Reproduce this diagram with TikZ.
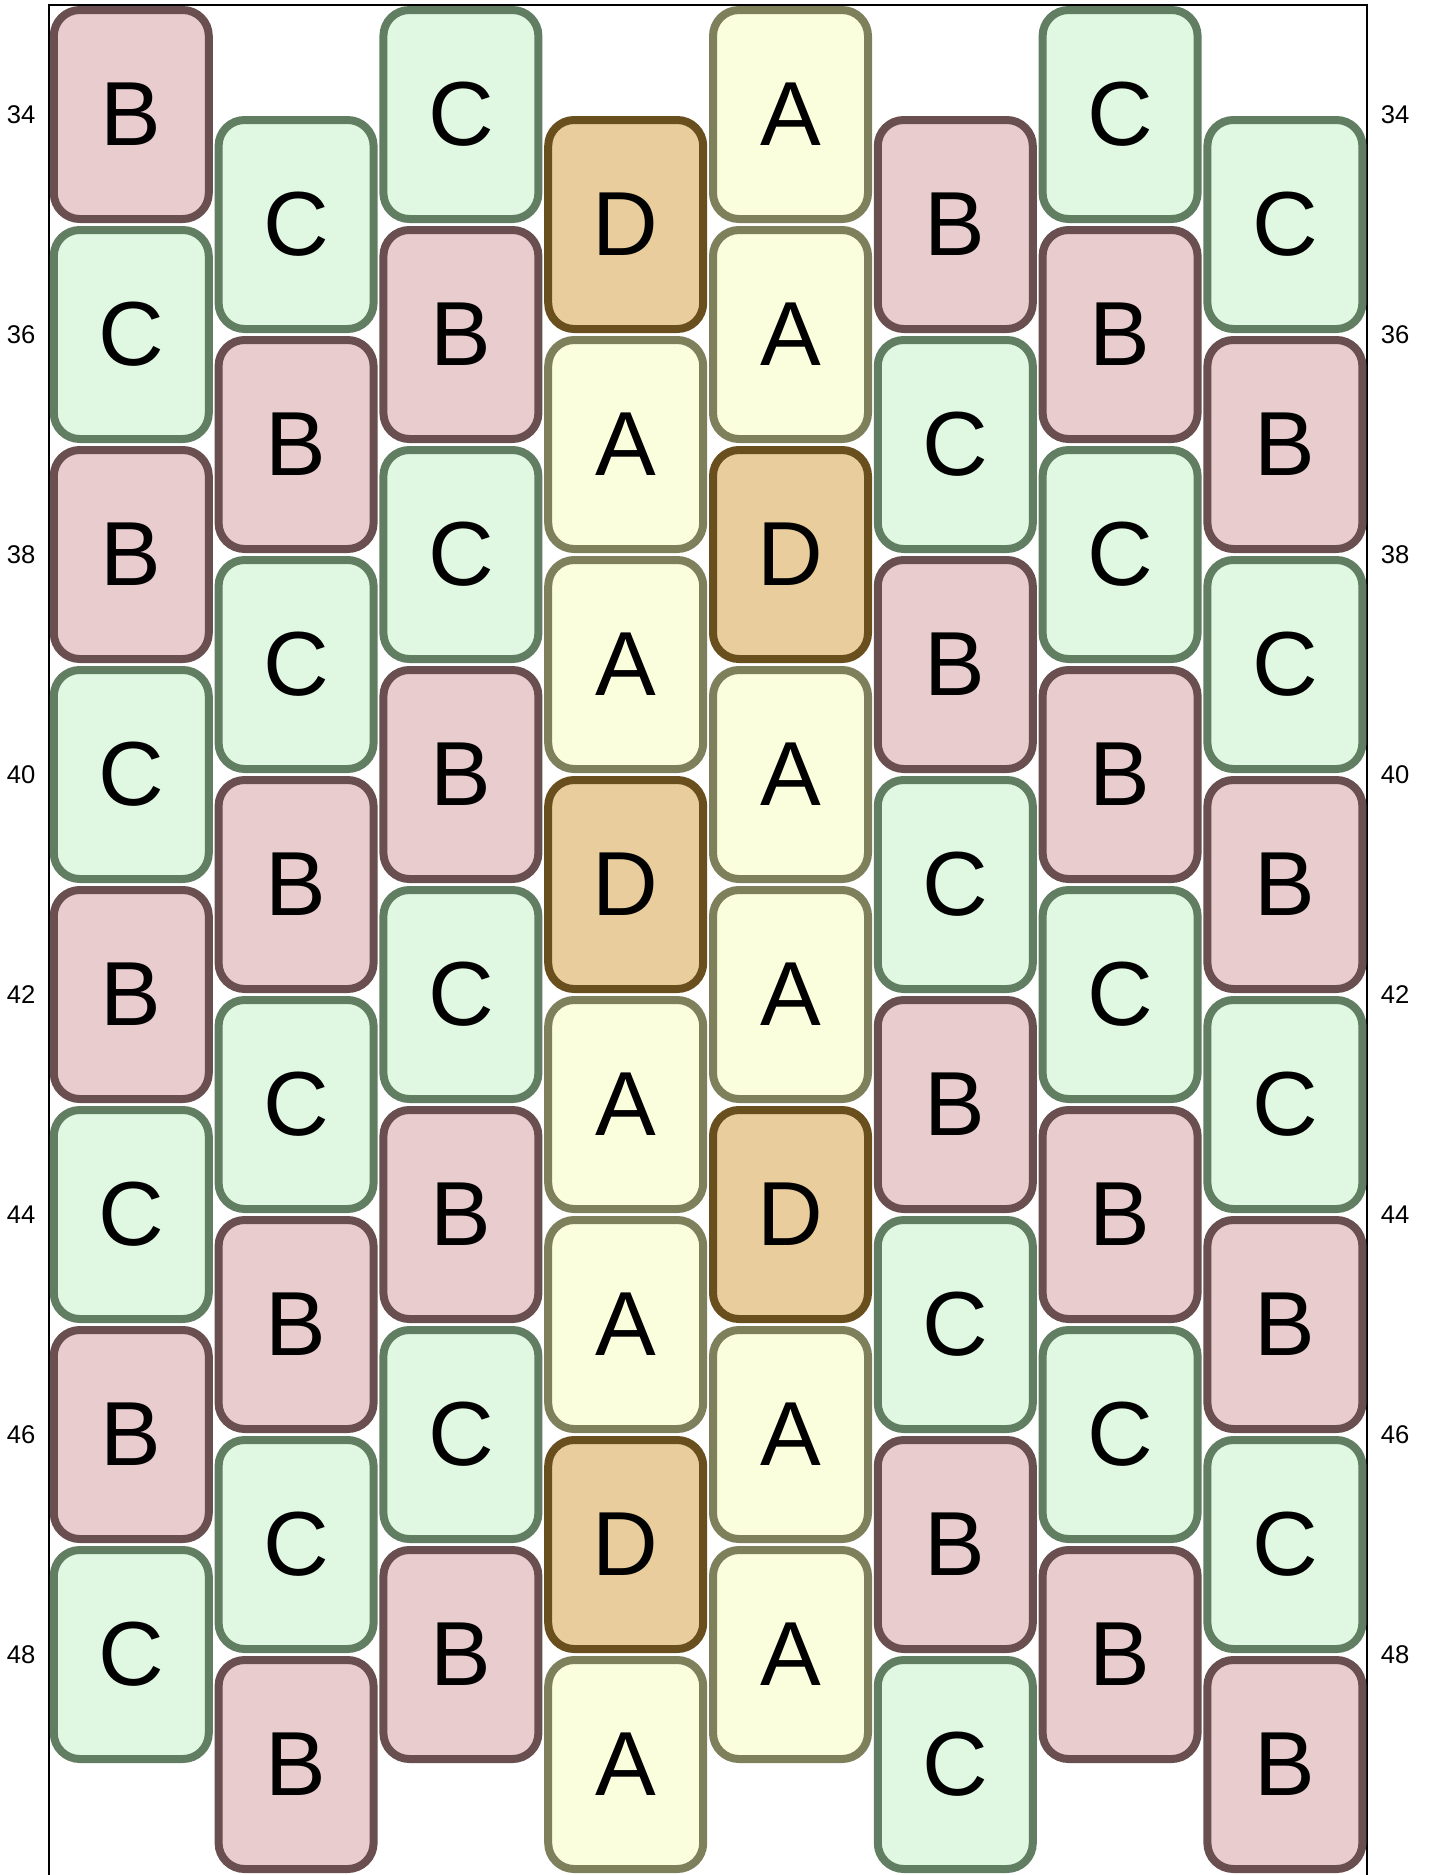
\documentclass[tikz,border=0pt]{standalone}
\usepackage{fontspec}
\setmainfont{Liberation Sans}
\usetikzlibrary{positioning}
\definecolor{fillA}{HTML}{FAFEDC}
\definecolor{lineA}{HTML}{7E805C}
\definecolor{fillB}{HTML}{E9CDCE}
\definecolor{lineB}{HTML}{6A4F50}
\definecolor{fillC}{HTML}{E0F8E2}
\definecolor{lineC}{HTML}{627E62}
\definecolor{fillD}{HTML}{E9CD9C}
\definecolor{lineD}{HTML}{6A4F1E}

\begin{document}
\begin{tikzpicture}[
  x=0.5pt, y=-0.5pt,
  bead/.style={
    fill=fill#1, draw=line#1,
    line width=4pt, rounded corners=13pt,
    minimum width=77.5pt, minimum height=104.5pt,
    inner sep=0pt, outer sep=0pt,
    font=\fontsize{45.5}{45.5}\selectfont
  },
  rowlab/.style={font=\fontsize{12.8}{12.8}\selectfont, inner sep=0pt},
  frameline/.style={line width=1pt, black},
  node distance=5.5pt
]
\useasboundingbox (0,0) rectangle (1434,1875);
\clip (0,0) rectangle (1434,1875);

%% ═══ RAHMEN ═══
\draw[frameline] (49,1880) |- (1367,5) -- (1367,1880);

%% ═══ SPALTE 1 ═══
\node[bead=B] (c1r1) at (131.3,114.5) {B};
\node[bead=C, below=of c1r1] (c1r2) {C};
\node[bead=B, below=of c1r2] (c1r3) {B};
\node[bead=C, below=of c1r3] (c1r4) {C};
\node[bead=B, below=of c1r4] (c1r5) {B};
\node[bead=C, below=of c1r5] (c1r6) {C};
\node[bead=B, below=of c1r6] (c1r7) {B};
\node[bead=C, below=of c1r7] (c1r8) {C};

%% ═══ SPALTE 2 ═══
\node[bead=C] (c2r1) at (296.1,224.5) {C};
\node[bead=B, below=of c2r1] (c2r2) {B};
\node[bead=C, below=of c2r2] (c2r3) {C};
\node[bead=B, below=of c2r3] (c2r4) {B};
\node[bead=C, below=of c2r4] (c2r5) {C};
\node[bead=B, below=of c2r5] (c2r6) {B};
\node[bead=C, below=of c2r6] (c2r7) {C};
\node[bead=B, below=of c2r7] (c2r8) {B};

%% ═══ SPALTE 3 ═══
\node[bead=C] (c3r1) at (460.9,114.5) {C};
\node[bead=B, below=of c3r1] (c3r2) {B};
\node[bead=C, below=of c3r2] (c3r3) {C};
\node[bead=B, below=of c3r3] (c3r4) {B};
\node[bead=C, below=of c3r4] (c3r5) {C};
\node[bead=B, below=of c3r5] (c3r6) {B};
\node[bead=C, below=of c3r6] (c3r7) {C};
\node[bead=B, below=of c3r7] (c3r8) {B};

%% ═══ SPALTE 4 ═══
\node[bead=D] (c4r1) at (625.7,224.5) {D};
\node[bead=A, below=of c4r1] (c4r2) {A};
\node[bead=A, below=of c4r2] (c4r3) {A};
\node[bead=D, below=of c4r3] (c4r4) {D};
\node[bead=A, below=of c4r4] (c4r5) {A};
\node[bead=A, below=of c4r5] (c4r6) {A};
\node[bead=D, below=of c4r6] (c4r7) {D};
\node[bead=A, below=of c4r7] (c4r8) {A};

%% ═══ SPALTE 5 ═══
\node[bead=A] (c5r1) at (790.5,114.5) {A};
\node[bead=A, below=of c5r1] (c5r2) {A};
\node[bead=D, below=of c5r2] (c5r3) {D};
\node[bead=A, below=of c5r3] (c5r4) {A};
\node[bead=A, below=of c5r4] (c5r5) {A};
\node[bead=D, below=of c5r5] (c5r6) {D};
\node[bead=A, below=of c5r6] (c5r7) {A};
\node[bead=A, below=of c5r7] (c5r8) {A};

%% ═══ SPALTE 6 ═══
\node[bead=B] (c6r1) at (955.3,224.5) {B};
\node[bead=C, below=of c6r1] (c6r2) {C};
\node[bead=B, below=of c6r2] (c6r3) {B};
\node[bead=C, below=of c6r3] (c6r4) {C};
\node[bead=B, below=of c6r4] (c6r5) {B};
\node[bead=C, below=of c6r5] (c6r6) {C};
\node[bead=B, below=of c6r6] (c6r7) {B};
\node[bead=C, below=of c6r7] (c6r8) {C};

%% ═══ SPALTE 7 ═══
\node[bead=C] (c7r1) at (1120.1,114.5) {C};
\node[bead=B, below=of c7r1] (c7r2) {B};
\node[bead=C, below=of c7r2] (c7r3) {C};
\node[bead=B, below=of c7r3] (c7r4) {B};
\node[bead=C, below=of c7r4] (c7r5) {C};
\node[bead=B, below=of c7r5] (c7r6) {B};
\node[bead=C, below=of c7r6] (c7r7) {C};
\node[bead=B, below=of c7r7] (c7r8) {B};

%% ═══ SPALTE 8 ═══
\node[bead=C] (c8r1) at (1284.9,224.5) {C};
\node[bead=B, below=of c8r1] (c8r2) {B};
\node[bead=C, below=of c8r2] (c8r3) {C};
\node[bead=B, below=of c8r3] (c8r4) {B};
\node[bead=C, below=of c8r4] (c8r5) {C};
\node[bead=B, below=of c8r5] (c8r6) {B};
\node[bead=C, below=of c8r6] (c8r7) {C};
\node[bead=B, below=of c8r7] (c8r8) {B};

%% ═══ REIHEN ═══
\node[rowlab, left=9pt of c1r1] (l34) {34};
\node[rowlab, left=9pt of c1r2] (l36) {36};
\node[rowlab, left=9pt of c1r3] (l38) {38};
\node[rowlab, left=9pt of c1r4] (l40) {40};
\node[rowlab, left=9pt of c1r5] (l42) {42};
\node[rowlab, left=9pt of c1r6] (l44) {44};
\node[rowlab, left=9pt of c1r7] (l46) {46};
\node[rowlab, left=9pt of c1r8] (l48) {48};

\node[rowlab, anchor=west] (r34) at ([xshift=9pt]c8r1.east |- c7r1) {34};
\node[rowlab, anchor=west] (r36) at ([xshift=9pt]c8r1.east |- c7r2) {36};
\node[rowlab, anchor=west] (r38) at ([xshift=9pt]c8r1.east |- c7r3) {38};
\node[rowlab, anchor=west] (r40) at ([xshift=9pt]c8r1.east |- c7r4) {40};
\node[rowlab, anchor=west] (r42) at ([xshift=9pt]c8r1.east |- c7r5) {42};
\node[rowlab, anchor=west] (r44) at ([xshift=9pt]c8r1.east |- c7r6) {44};
\node[rowlab, anchor=west] (r46) at ([xshift=9pt]c8r1.east |- c7r7) {46};
\node[rowlab, anchor=west] (r48) at ([xshift=9pt]c8r1.east |- c7r8) {48};

\end{tikzpicture}
\end{document}
